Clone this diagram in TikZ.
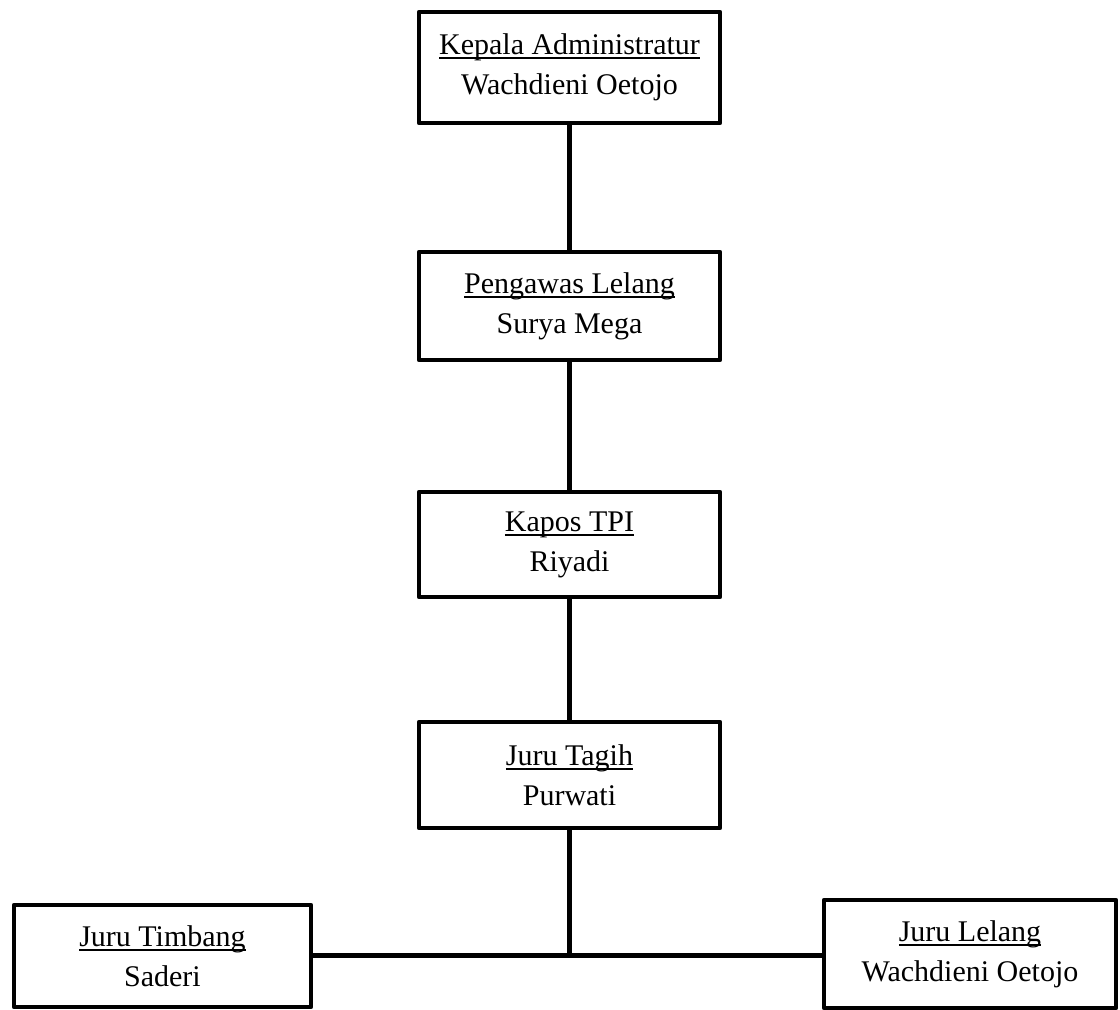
\documentclass[tikz,border=0pt]{standalone}
\usepackage{fontspec}
\setmainfont{Liberation Serif}
\newcommand\myul[1]{\setbox0\hbox{#1}\rlap{\rule[-4.5pt]{\wd0}{1.8pt}}\box0}
\begin{document}
\begin{tikzpicture}[x=1pt,y=-1pt,
  orgbox/.style={draw=black,line width=4.5pt,rectangle,inner sep=0pt,outer sep=0pt,
    align=center,font=\fontsize{30}{40}\selectfont,line join=round},
  link/.style={draw=black,line width=4.5pt}]
\useasboundingbox (0,0) rectangle (1120,1010);
\node[orgbox,minimum width=301pt,minimum height=111pt] (k1) at (569.5,67.5) {\myul{Kepala Administratur}\\Wachdieni Oetojo};
\node[orgbox,minimum width=301pt,minimum height=108pt] (k2) at (569.5,306) {\myul{Pengawas Lelang}\\Surya Mega};
\node[orgbox,minimum width=301pt,minimum height=105pt] (k3) at (569.5,544.5) {\myul{Kapos TPI}\\Riyadi};
\node[orgbox,minimum width=301pt,minimum height=106pt] (k4) at (569.5,775) {\myul{Juru Tagih}\\Purwati};
\node[orgbox,minimum width=297pt,minimum height=102pt] (t) at (162.5,956) {\myul{Juru Timbang}\\Saderi};
\node[orgbox,minimum width=292pt,minimum height=108pt] (l) at (970,954) {\myul{Juru Lelang}\\Wachdieni Oetojo};
\coordinate (j) at (569.5,955.5);
\draw[link] (k1.south) -- (k2.north);
\draw[link] (k2.south) -- (k3.north);
\draw[link] (k3.south) -- (k4.north);
\draw[link] (k4.south) -- (j);
\draw[link] (t.east |- j) -- (l.west |- j);
\end{tikzpicture}
\end{document}
